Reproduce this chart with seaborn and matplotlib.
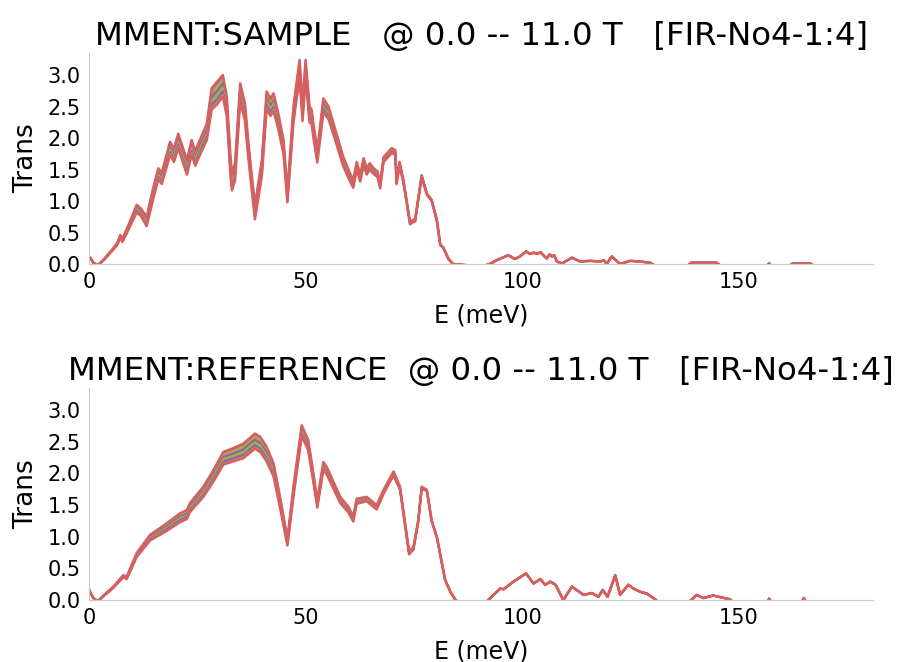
import numpy as np
import pandas as pd
import matplotlib
matplotlib.use("Agg")
import matplotlib.pyplot as plt
import seaborn as sns

# ---------------- data ----------------
fields = [0.0, 1.0, 2.0, 3.0, 4.0, 5.0, 6.0, 7.0, 8.0, 9.0, 10.0, 11.0]

# SAMPLE: energy, upper envelope (lowest field), spread between extreme fields
E_sample = [0.0, 0.3, 1.0, 2.0, 3.5, 5.6, 6.5, 7.2, 7.7, 9.0,
             11.0, 12.0, 13.3, 14.9, 16.0, 16.8, 18.7, 19.6, 20.6, 22.6,
             23.7, 24.5, 25.6, 27.2, 28.3, 29.5, 30.9, 31.8, 32.7, 33.0,
             33.7, 34.9, 36.0, 36.8, 38.3, 39.9, 41.0, 41.9, 42.6, 43.7,
             44.9, 45.8, 47.2, 48.6, 49.3, 50.0, 50.9, 51.4, 51.8, 52.7,
             54.1, 55.3, 57.0, 58.7, 60.2, 61.0, 61.8, 62.6, 63.4, 64.1,
             64.8, 65.7, 66.6, 67.2, 68.0, 69.9, 70.7, 71.0, 71.7, 72.6,
             74.1, 75.3, 76.8, 78.0, 79.1, 80.3, 81.1, 81.7, 83.0, 84.0,
             90.7, 92.5, 94.1, 96.8, 98.3, 99.5, 100.9, 101.8, 102.7, 103.5,
             104.2, 105.0, 105.7, 106.3, 106.9, 107.4, 108.0, 109.2, 111.5, 113.4,
             115.7, 118.0, 118.9, 119.5, 120.7, 122.6, 124.9, 127.2, 129.5, 131.0,
             138.0, 139.0, 144.9, 146.0, 156.5, 157.0, 157.5, 161.5, 162.5, 166.5,
             167.5, 181.0]
T_sample = [0.08, 0.10, 0.02, -0.02, 0.08, 0.25, 0.33, 0.46, 0.40, 0.60,
            0.94, 0.88, 0.75, 1.23, 1.52, 1.45, 1.94, 1.83, 2.07, 1.65,
            1.97, 1.79, 1.97, 2.23, 2.79, 2.89, 3.00, 2.66, 1.65, 1.45,
            1.60, 2.87, 2.55, 1.92, 0.93, 1.65, 2.74, 2.63, 2.71, 2.39,
            1.97, 1.15, 2.50, 3.24, 2.55, 3.24, 2.50, 2.45, 2.23, 1.81,
            2.63, 2.50, 2.10, 1.70, 1.45, 1.33, 1.62, 1.42, 1.68, 1.52,
            1.60, 1.52, 1.47, 1.28, 1.70, 1.84, 1.81, 1.33, 1.62, 1.33,
            0.67, 0.72, 1.41, 1.12, 1.02, 0.70, 0.30, 0.27, 0.08, 0.00,
            -0.04, 0.00, 0.06, 0.14, 0.08, 0.12, 0.20, 0.16, 0.18, 0.16,
            0.19, 0.13, 0.09, 0.15, 0.12, 0.14, 0.04, 0.01, 0.10, 0.04,
            0.05, 0.04, 0.06, 0.00, 0.12, 0.00, 0.05, 0.04, 0.02, -0.04,
            -0.04, 0.02, 0.02, -0.04, -0.04, 0.01, -0.04, -0.04, 0.01, 0.01,
            -0.04, -0.04]
S_sample = [0.0, 0.0, 0.0, 0.0, 0.01, 0.02, 0.03, 0.04, 0.05, 0.07,
            0.12, 0.12, 0.15, 0.17, 0.18, 0.18, 0.21, 0.21, 0.23, 0.23,
            0.23, 0.23, 0.24, 0.26, 0.34, 0.36, 0.34, 0.32, 0.28, 0.28,
            0.28, 0.28, 0.28, 0.25, 0.22, 0.25, 0.28, 0.28, 0.28, 0.25,
            0.22, 0.17, 0.25, 0.28, 0.28, 0.28, 0.25, 0.23, 0.22, 0.20,
            0.22, 0.20, 0.17, 0.15, 0.13, 0.12, 0.12, 0.11, 0.11, 0.10,
            0.10, 0.09, 0.09, 0.08, 0.08, 0.08, 0.07, 0.06, 0.06, 0.05,
            0.04, 0.04, 0.03, 0.02, 0.02, 0.01, 0.0, 0.0, 0.0, 0.0,
            0.0, 0.0, 0.0, 0.0, 0.0, 0.0, 0.0, 0.0, 0.0, 0.0,
            0.0, 0.0, 0.0, 0.0, 0.0, 0.0, 0.0, 0.0, 0.0, 0.0,
            0.0, 0.0, 0.0, 0.0, 0.0, 0.0, 0.0, 0.0, 0.0, 0.0,
            0.0, 0.0, 0.0, 0.0, 0.0, 0.0, 0.0, 0.0, 0.0, 0.0,
            0.0, 0.0]

# REFERENCE
E_ref = [0.0, 0.3, 1.0, 2.0, 3.5, 5.6, 7.9, 8.7, 11.0, 14.1,
         17.9, 21.0, 22.6, 23.3, 26.4, 28.7, 31.0, 33.3, 35.6, 38.3,
         39.5, 41.0, 42.6, 44.1, 45.8, 47.2, 49.1, 50.6, 51.8, 52.7,
         54.1, 54.9, 58.0, 59.9, 61.0, 61.8, 64.1, 66.4, 68.0, 70.3,
         71.8, 73.9, 74.9, 76.0, 76.8, 78.0, 79.1, 80.3, 82.2, 83.4,
         84.6, 85.5, 91.5, 92.5, 94.9, 95.7, 98.0, 100.9, 102.6, 104.2,
         105.3, 106.5, 107.7, 109.5, 111.5, 114.2, 116.1, 117.6, 118.6, 119.7,
         121.5, 122.6, 124.5, 125.7, 127.2, 128.8, 130.7, 131.5, 138.4, 140.3,
         141.8, 144.1, 148.0, 148.8, 156.5, 157.0, 157.5, 164.5, 165.0, 165.6,
         181.0]
T_ref = [0.16, 0.12, 0.03, -0.02, 0.08, 0.21, 0.39, 0.37, 0.74, 1.03,
         1.21, 1.37, 1.42, 1.53, 1.79, 2.05, 2.34, 2.40, 2.47, 2.63,
         2.58, 2.42, 2.16, 1.63, 0.97, 1.79, 2.76, 2.53, 2.00, 1.58,
         2.18, 2.10, 1.63, 1.47, 1.32, 1.60, 1.63, 1.50, 1.74, 2.03,
         1.79, 0.76, 0.84, 1.26, 1.79, 1.74, 1.26, 1.00, 0.32, 0.13,
         0.00, -0.04, -0.04, 0.02, 0.18, 0.17, 0.29, 0.42, 0.26, 0.33,
         0.24, 0.29, 0.24, 0.00, 0.21, 0.08, 0.11, 0.05, 0.16, 0.05,
         0.39, 0.08, 0.24, 0.18, 0.13, 0.10, 0.01, -0.04, -0.04, 0.08,
         0.03, 0.07, 0.01, -0.04, -0.04, 0.02, -0.04, -0.04, 0.03, -0.04,
         -0.04]
S_ref = [0.0, 0.0, 0.0, 0.0, 0.01, 0.02, 0.03, 0.04, 0.06, 0.09,
         0.12, 0.14, 0.14, 0.14, 0.16, 0.18, 0.20, 0.21, 0.23, 0.24,
         0.24, 0.23, 0.21, 0.17, 0.11, 0.15, 0.17, 0.16, 0.14, 0.12,
         0.12, 0.12, 0.10, 0.09, 0.08, 0.08, 0.07, 0.07, 0.06, 0.06,
         0.05, 0.04, 0.04, 0.03, 0.03, 0.02, 0.02, 0.01, 0.0, 0.0,
         0.0, 0.0, 0.0, 0.0, 0.0, 0.0, 0.0, 0.0, 0.0, 0.0,
         0.0, 0.0, 0.0, 0.0, 0.0, 0.0, 0.0, 0.0, 0.0, 0.0,
         0.0, 0.0, 0.0, 0.0, 0.0, 0.0, 0.0, 0.0, 0.0, 0.0,
         0.0, 0.0, 0.0, 0.0, 0.0, 0.0, 0.0, 0.0, 0.0, 0.0,
         0.0]

titles = ["MMENT:SAMPLE   @ 0.0 -- 11.0 T   [FIR-No4-1:4]",
          "MMENT:REFERENCE  @ 0.0 -- 11.0 T   [FIR-No4-1:4]"]
xlabel = "E (meV)"
ylabel = "Trans"
yticks = [0.0, 0.5, 1.0, 1.5, 2.0, 2.5, 3.0]
xticks = [0, 50, 100, 150]

assert len(E_sample) == len(T_sample) == len(S_sample)
assert len(E_ref) == len(T_ref) == len(S_ref)

# ---------------- style ----------------
sns.set_style("white", {"axes.edgecolor": "#c8c8c8", "axes.linewidth": 1.0,
                        "text.color": "black", "axes.labelcolor": "black",
                        "xtick.color": "black", "ytick.color": "black"})
plt.rcParams["font.family"] = ["DejaVu Sans"]

muted = sns.color_palette("muted")
cycle = [muted[0], muted[1], muted[2], muted[3]]
red = muted[3]


def long_frame(E, T, S):
    rows = []
    n = len(fields) - 1
    for k, f in enumerate(fields):
        for e, t, s in zip(E, T, S):
            rows.append({"E": e, "Trans": t - s * k / n, "Field": f})
    return pd.DataFrame(rows)


fig = plt.figure(figsize=(9.03, 6.62), dpi=100)
rects = [[0.0986, 0.6012, 0.8682, 0.3187],
         [0.0986, 0.0937, 0.8682, 0.3202]]
datasets = [(E_sample, T_sample, S_sample), (E_ref, T_ref, S_ref)]

inner = fields[1:-1]
outer = [fields[0], fields[-1]]
palette = {f: cycle[i % 4] for i, f in enumerate(inner)}
palette[fields[0]] = red
palette[fields[-1]] = red

for rect, (E, T, S), title in zip(rects, datasets, titles):
    ax = fig.add_axes(rect)
    df = long_frame(E, T, S)
    sns.lineplot(data=df[df["Field"].isin(inner)], x="E", y="Trans",
                 hue="Field", hue_order=inner, palette=palette, legend=False,
                 linewidth=1.3, ax=ax, estimator=None, sort=False)
    sns.lineplot(data=df[df["Field"].isin(outer)], x="E", y="Trans",
                 hue="Field", hue_order=outer, palette=palette, legend=False,
                 linewidth=1.8, ax=ax, estimator=None, sort=False)
    ax.set_xlim(0, 181)
    ax.set_ylim(0, 3.35)
    ax.set_xticks(xticks)
    ax.set_yticks(yticks)
    ax.set_yticklabels([f"{v:.1f}" for v in yticks])
    ax.tick_params(axis="both", labelsize=15, length=0, pad=6)
    ax.set_xlabel(xlabel, fontsize=17, labelpad=8)
    ax.set_ylabel(ylabel, fontsize=19, labelpad=6)
    ax.set_title(title, fontsize=23.3, pad=6)
    sns.despine(ax=ax)

fig.savefig("out.png", dpi=100)
